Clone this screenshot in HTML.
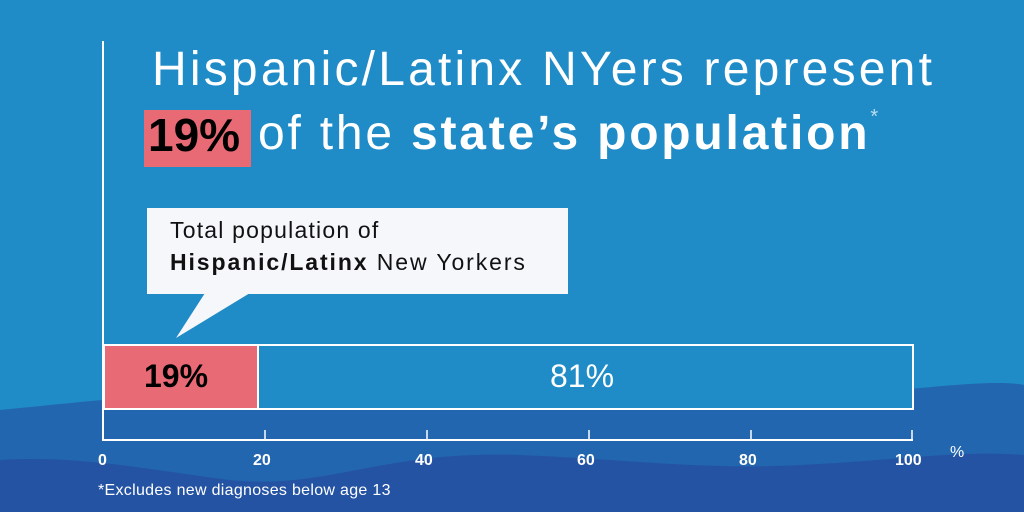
<!DOCTYPE html>
<html><head><style>
html,body{margin:0;padding:0}
body{width:1024px;height:512px;overflow:hidden;background:#1f8bc7;font-family:"Liberation Sans",sans-serif;position:relative}
.t{position:absolute;color:#fff;white-space:nowrap}
</style></head><body>
<svg width="1024" height="512" style="position:absolute;left:0;top:0">
<path d="M0 410 C150 395 250 385 330 390 C450 398 500 360 620 365 C720 370 800 400 880 392 C950 385 1000 380 1024 385 L1024 512 L0 512Z" fill="#2266b0"/>
<path d="M0 460 C80 455 150 470 230 480 C330 490 380 450 520 455 C640 460 700 470 800 465 C900 460 960 450 1024 455 L1024 512 L0 512Z" fill="#2553a3"/>
<line x1="103" y1="41" x2="103" y2="441" stroke="#fff" stroke-width="2"/>
<line x1="103" y1="440" x2="913" y2="440" stroke="#fff" stroke-width="2"/>
<g stroke="#fff" stroke-width="1.5">
<line x1="265" y1="430" x2="265" y2="440"/><line x1="427" y1="430" x2="427" y2="440"/>
<line x1="589" y1="430" x2="589" y2="440"/><line x1="751" y1="430" x2="751" y2="440"/>
<line x1="912" y1="430" x2="912" y2="440"/></g>
<rect x="104" y="345" width="154" height="64" fill="#e76a75" stroke="#fff" stroke-width="2"/>
<rect x="258" y="345" width="655" height="64" fill="#1f8bc7" stroke="#fff" stroke-width="2"/>
<rect x="147" y="208" width="421" height="86" fill="#f5f7fb"/>
<polygon points="205,293 250,293 176,338" fill="#f5f7fb"/>
<rect x="144" y="110" width="107" height="57" fill="#e76a75"/>
</svg>
<div class="t" style="left:152px;top:42px;font-size:48px;letter-spacing:3.2px">Hispanic/Latinx NYers represent</div>
<div class="t" style="left:148px;top:108px;font-size:46px;color:#000;font-weight:bold">19%</div>
<div class="t" style="left:258px;top:106px;font-size:48px;letter-spacing:2.8px">of the <b>state’s population</b><span style="font-size:20px;vertical-align:top;opacity:.7">*</span></div>
<div class="t" style="left:170px;top:217px;font-size:23px;letter-spacing:1.2px;color:#111">Total population of</div>
<div class="t" style="left:170px;top:249px;font-size:23px;letter-spacing:1.9px;color:#111"><b>Hispanic/Latinx</b> New Yorkers</div>
<div class="t" style="left:144px;top:358px;font-size:32px;color:#000;font-weight:bold">19%</div>
<div class="t" style="left:550px;top:358px;font-size:32px">81%</div>
<div class="t" style="left:0;top:452px;width:1024px;font-size:16px;font-weight:bold">
<span style="position:absolute;left:98px">0</span><span style="position:absolute;left:253px">20</span>
<span style="position:absolute;left:415px">40</span><span style="position:absolute;left:577px">60</span>
<span style="position:absolute;left:739px">80</span><span style="position:absolute;left:895px">100</span>
<span style="position:absolute;left:950px;top:-8px;font-weight:normal">%</span></div>
<div class="t" style="left:98px;top:482px;font-size:16px;letter-spacing:0.3px">*Excludes new diagnoses below age 13</div>
</body></html>
